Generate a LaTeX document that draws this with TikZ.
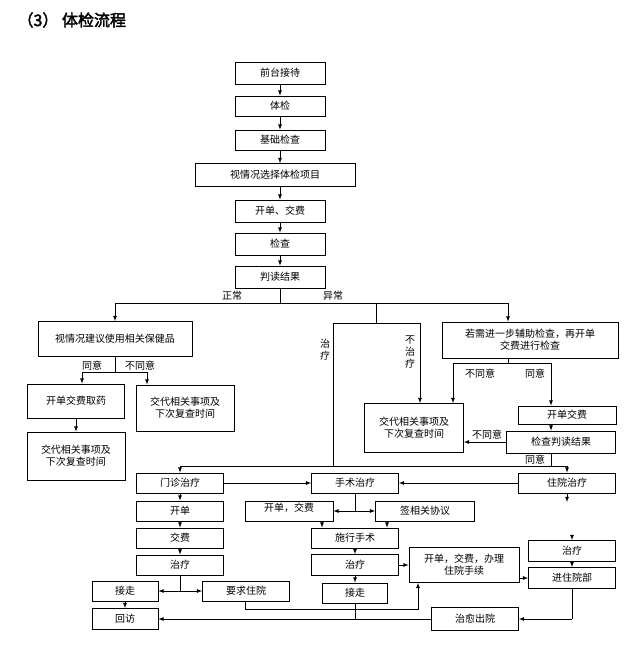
\documentclass[tikz,border=0pt]{standalone}
\usepackage{fontspec}
\setmainfont[AutoFakeBold=2.5]{Noto Sans CJK SC}
\usetikzlibrary{positioning}

\begin{document}
\begin{tikzpicture}[x=1pt, y=-1pt, >=latex,
    box/.style={draw, thick, inner sep=1pt, font=\fontsize{10}{12}\selectfont, minimum width=87pt, minimum height=20pt, align=center},
    lab/.style={font=\fontsize{10}{12}\selectfont, inner sep=0pt, align=center}]
\useasboundingbox (0,0) rectangle (640,651);
\node[anchor=west, font=\fontsize{16}{18}\selectfont\bfseries] (title) at (14,20) {（3） 体检流程};

% main chain
\node[box, minimum width=90pt, minimum height=22pt] (qt) at (280,73) {前台接待};
\node[box, minimum width=90pt] (tj) at (280,106) {体检};
\node[box, minimum width=90pt] (jc) at (280,140) {基础检查};
\node[box, minimum width=160pt, minimum height=23pt] (xz) at (275,175) {视情况选择体检项目};
\node[box, minimum width=90pt, minimum height=22pt] (jf) at (280,211) {开单、交费};
\node[box, minimum width=90pt, minimum height=22pt] (jcha) at (280,244) {检查};
\node[box, minimum width=90pt, minimum height=22pt] (pd) at (280,277) {判读结果};

% branches
\node[box, minimum width=154pt, minimum height=35pt] (bj) at (115,339) {视情况建议使用相关保健品};
\node[box, minimum width=176pt, minimum height=36pt] (fz) at (530,340) {若需进一步辅助检查，再开单\\交费进行检查};
\node[box, minimum width=97pt, minimum height=34pt] (qy) at (76,401) {开单交费取药};
\node[box, minimum width=98pt, minimum height=46pt] (jd1) at (185,408) {交代相关事项及\\下次复查时间};
\node[box, minimum width=98pt, minimum height=48pt] (jd2) at (76,456) {交代相关事项及\\下次复查时间};
\node[box, minimum width=99pt, minimum height=49pt] (jd3) at (414,428) {交代相关事项及\\下次复查时间};
\node[box, minimum width=98pt, minimum height=18pt] (kj) at (567,415) {开单交费};
\node[box, minimum width=109pt, minimum height=22pt] (jp) at (561,442) {检查判读结果};

% treatment
\node[box] (mz) at (180,483) {门诊治疗};
\node[box] (ss) at (355,483) {手术治疗};
\node[box, minimum width=97pt] (zy) at (567,483) {住院治疗};
\node[box] (kd) at (180,511) {开单};
\node[box] (jiaof) at (180,538) {交费};
\node[box] (zl1) at (180,565) {治疗};
\node[box, minimum width=66pt] (jz1) at (125,591) {接走};
\node[box, minimum width=66pt, minimum height=21pt] (hf) at (125,619) {回访};
\node[box] (yq) at (246,591) {要求住院};
\node[box, minimum width=88pt, text depth=7pt] (kjf) at (289,511) {开单，交费};
\node[box, minimum width=99pt] (xy) at (425,511) {签相关协议};
\node[box] (sx) at (355,538) {施行手术};
\node[box, minimum height=21pt] (zl2) at (355,565) {治疗};
\node[box, minimum width=65pt] (jz2) at (355,593) {接走};
\node[box, minimum width=110pt, minimum height=35pt] (bl) at (464,565) {开单，交费，办理\\住院手续};
\node[box, minimum height=21pt] (zl3) at (572,551) {治疗};
\node[box, minimum height=21pt] (jr) at (572,578) {进住院部};
\node[box, minimum height=23pt] (cy) at (475,619) {治愈出院};

% junctions
\coordinate (m0) at (280,303);
\coordinate (r0) at (508,303);
\coordinate (t0) at (376,303);
\coordinate (t1) at (376,323);
\coordinate (tl) at (333,323);
\coordinate (tr) at (420,323);
\coordinate (hl) at (180,466);
\coordinate (hr) at (567,466);
\coordinate (b0) at (115,372);
\coordinate (bL) at (82,372);
\coordinate (bR) at (147,372);
\coordinate (f0) at (508,363);
\coordinate (fL) at (453,363);
\coordinate (fR) at (551,363);
\coordinate (zd) at (567,502);
\coordinate (zt) at (572,535);
\coordinate (c1) at (180,591);
\coordinate (c2) at (355,511);
\coordinate (k1) at (322,521);
\coordinate (k2) at (387,521);
\coordinate (y1) at (245,609);
\coordinate (y2) at (418,609);
\coordinate (hb) at (355,619);
\coordinate (j1) at (572,619);

\begin{scope}[thick]
\draw[->] (qt) -- (tj);
\draw[->] (tj) -- (jc);
\draw[->] (jc) -- (jf.north |- xz.north);
\draw[->] (xz.south -| jf) -- (jf);
\draw[->] (jf) -- (jcha);
\draw[->] (jcha) -- (pd);
\draw (pd) -- (m0);
\draw[->] (m0) -| (bj);
\draw[->] (m0) -| (fz.north -| r0);
\draw (t0) -- (t1);
\draw (tl) -- (tr);
\draw (tl) -- (tl |- hl);
\draw[->] (tr) -- (tr |- jd3.north);
\draw (hl) -- (hr);
\draw[->] (hl) -- (mz);
\draw[->] (hr) -- (zy);
% normal
\draw (bj) -- (b0);
\draw (bL) -- (bR);
\draw[->] (bL) -- (bL |- qy.north);
\draw[->] (bR) -- (bR |- jd1.north);
\draw[->] (qy) -- (jd2);
% further check
\draw (fz.south -| f0) -- (f0);
\draw (fL) -- (fR);
\draw[->] (fL) -- (fL |- jd3.north);
\draw[->] (fR) -- (fR |- kj.north);
\draw[->] (kj.south -| fR) -- (jp.north -| fR);
\draw[->] (jp.west) -- (jd3.east |- jp.west);
\draw (jp.south -| fR) -- (fR |- hr);
% outpatient
\draw[->] (mz) -- (ss);
\draw[->] (zy) -- (ss);
\draw[->] (zy) -- (zd);
\draw[->] (mz) -- (kd);
\draw[->] (kd) -- (jiaof);
\draw[->] (jiaof) -- (zl1);
\draw (zl1) -- (c1);
\draw[->] (c1) -- (jz1);
\draw[->] (c1) -- (yq);
\draw[->] (jz1) -- (hf);
% surgery
\draw (ss) -- (c2);
\draw[->] (c2) -- (kjf);
\draw[->] (c2) -- (xy);
\draw[->] (k1) -- (k1 |- sx.north);
\draw[->] (k2) -- (k2 |- sx.north);
\draw[->] (sx) -- (zl2);
\draw[->] (zl2) -- (jz2);
\draw[->] (zl2) -- (bl.west |- zl2);
\draw[->] (yq.south -| y1) -- (y1) -- (y2) -- (y2 |- bl.south);
\draw (jz2) -- (hb);
% inpatient
\draw[->] (zt) -- (zl3);
\draw[->] (zl3) -- (jr);
\draw[->] (bl.east |- jr) -- (jr);
\draw (jr) -- (j1);
\draw[->] (j1) -- (cy);
\draw[->] (cy) -- (hf);
\end{scope}

% labels
\node[lab] (zc) at (232,296) {正常};
\node[lab] (yc) at (333,296) {异常};
\node[lab] (zlt) at (325,350) {治\\疗};
\node[lab] (bzl) at (410,352) {不\\治\\疗};
\node[lab] (ty1) at (92,366) {同意};
\node[lab] (bty1) at (140,366) {不同意};
\node[lab] (bty2) at (480,374) {不同意};
\node[lab] (ty2) at (535,374) {同意};
\node[lab] (bty3) at (487,435) {不同意};
\node[lab] (ty3) at (535,460) {同意};
\end{tikzpicture}
\end{document}
